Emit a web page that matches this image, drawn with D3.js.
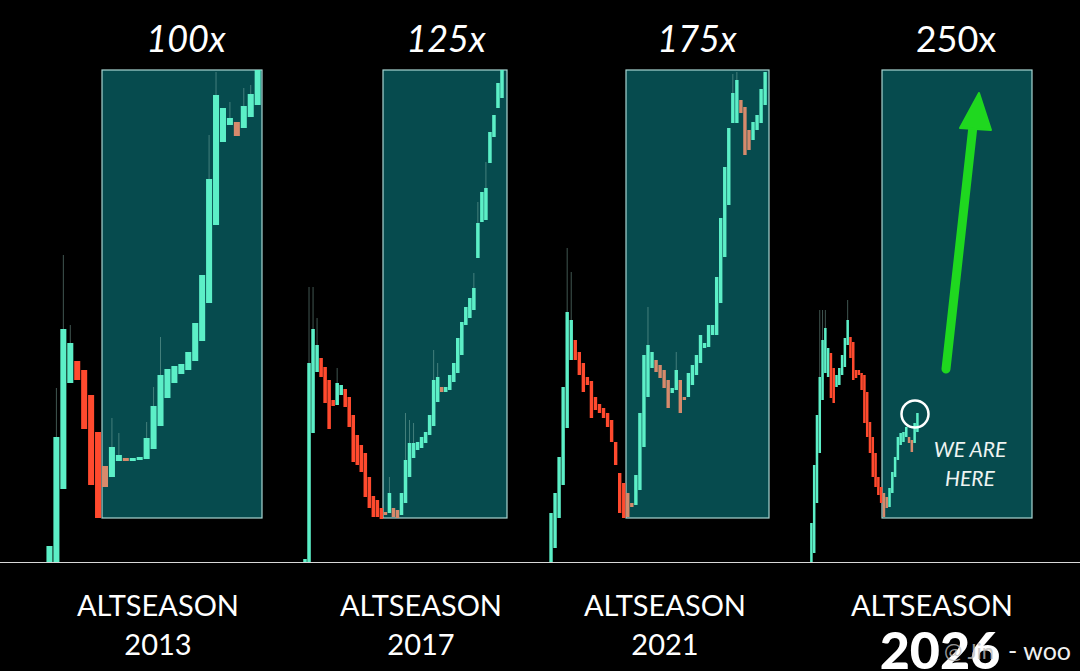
<!DOCTYPE html>
<html>
<head>
<meta charset="utf-8">
<script src="https://cdn.jsdelivr.net/npm/d3@7"></script>
<style>
  html, body { margin: 0; padding: 0; background: #000; }
  svg { display: block; }
</style>
</head>
<body>
<div id="chart"></div>
<script>
'use strict'

// candles: [open, close, high]  (high optionnel = mèche)
var candles2013 = [
	[0, 8], [0, 62.5, 87], [36.5, 116.5, 153.5], [89.5, 109.5, 118.5], [100.5, 91],
	[96, 66.5], [83.5, 38.5], [65, 22], [48, 37.5], [42.5, 57.5, 72],
	[50.5, 53.5, 64.5], [52, 50.5], [50.5, 52], [51, 52.5], [51.5, 62, 70],
	[56.5, 78, 87.5], [68, 93.5, 112.5], [82, 96.5], [89.5, 98], [94, 99],
	[96, 105], [100.5, 119.5], [110.5, 143.5], [129.5, 191.5, 213.5], [168.5, 233.5, 245],
	[210, 227], [218.5, 222, 230], [220, 213], [217, 228, 237], [222.5, 234, 238.5],
	[228.5, 246]
];

var candles2017 = [
	[0, 1.5], [0, 99.5, 137.5], [64.5, 116.5, 137.5], [95, 108.5, 122], [102, 92.5],
	[97.5, 79.5], [91, 66.5], [81, 78], [78.5, 89.5, 97], [83.5, 88.5],
	[86.5, 77.5], [82.5, 67.5], [73.5, 50], [63.5, 48.5], [58.5, 45],
	[54.5, 32.5], [42.5, 27], [33, 22.5], [31, 22.5], [27, 21.5],
	[25, 23.5], [24.5, 34.5, 42.5], [27, 22.5], [26, 22], [23.5, 34.5],
	[29.5, 51, 74.5], [42.5, 59.5, 71], [52, 59.5, 69.5], [56, 60], [57, 62.5],
	[59.5, 65], [63.5, 73.5], [68, 91, 106], [80, 92.5, 99.5], [87.5, 85],
	[85, 87.5], [86, 93.5], [90, 99.5], [94.5, 112], [103.5, 120],
	[118.5, 127.5], [122, 132], [126, 137, 144.5], [152, 169.5, 180], [170, 185],
	[171, 187, 200], [199.5, 215], [212.5, 223.5], [227, 239.5], [232, 246]
];

var candles2021 = [
	[0, 24.5], [7, 34.5], [22, 52.5], [38.5, 87.5], [67, 125, 157],
	[101, 121, 145], [111, 101], [105, 93.5], [99.5, 85], [92.5, 88.5],
	[90.5, 72], [82.5, 76], [79, 74.5], [77, 72], [74.5, 67.5],
	[71, 60], [60, 48.5], [44.5, 24.5], [39.5, 22], [34.5, 22.5],
	[29.5, 27.5], [28.5, 43.5], [36, 74.5], [57.5, 103.5], [82.5, 108.5, 127.5],
	[97, 105], [101, 95], [98.5, 92], [96, 87], [91, 77],
	[84.5, 87], [86, 96, 105], [91, 74.5], [82.5, 81], [82.5, 94.5],
	[88.5, 98.5], [93.5, 103.5], [99.5, 113.5], [107, 109.5], [107.5, 118.5],
	[113.5, 118.5], [113.5, 142.5], [129.5, 172], [152.5, 197.5], [178.5, 217],
	[219.5, 234.5, 244], [219.5, 241, 245], [231, 224.5], [227.5, 203.5], [216, 206],
	[211, 220], [216, 223.5], [219.5, 236.5], [228.5, 245]
];

var candles2026 = [
	[0, 19.5], [4.5, 48.5], [29.5, 73.5], [54.5, 92.5, 126], [81, 111, 126],
	[94.5, 117, 126], [92.5, 107], [104.5, 82], [97, 79.5], [87.5, 93.5],
	[88.5, 97], [93.5, 103.5], [97.5, 112], [108.5, 121, 131], [112.5, 102],
	[110, 91], [96, 92], [96, 93.5], [94.5, 86], [93.5, 69.5],
	[85, 62.5], [70, 54.5], [62.5, 42.5], [54.5, 37.5], [42.5, 33.5],
	[37.5, 29.5], [34.5, 22.5], [32.5, 27], [27.5, 37], [34.5, 45],
	[42.5, 52.5], [51, 62.5], [58.5, 64.5], [60, 65], [62.5, 67.5],
	[62.5, 59.5], [61, 55], [59.5, 69.5], [65, 74.5]
];

var multiples = ["100x", "125x", "175x", "250x"];
var seasons = ["2013", "2017", "2021", "2026"];
var seasonWord = "ALTSEASON";

// zone verte de la "montée" (en valeur)
var boxTop = 246;
var boxBottom = 22;

var green = '#5cefc7';
var red = '#ff4a2e';
var salmon = '#d68a6c';

var width = 1080;
var height = 671;

var svg = d3.select("#chart")
	.append('svg')
	.attr("width", width)
	.attr("height", height)
	.style("background", "#000");

var y = d3.scaleLinear().domain([0, 250]).range([562, 62]);

// mise en page de chaque panneau
var panels = [
	{ data: candles2013, x0: 46, step: 6.94, pad: 0.13, box: [102, 262], cx: 186, italic: true },
	{ data: candles2017, x0: 303, step: 4.02, pad: 0.12, box: [383, 507], cx: 446, italic: true },
	{ data: candles2021, x0: 549, step: 4.04, pad: 0.16, box: [626, 769], cx: 697, italic: true },
	{ data: candles2026, x0: 810, step: 2.79, pad: 0.1, box: [882, 1032], cx: 956, italic: false }
];
var labelX = [158, 421, 665, 932];

panels.forEach(function(p, k){
	var x = d3.scaleBand()
		.domain(d3.range(p.data.length))
		.range([p.x0, p.x0 + p.data.length * p.step])
		.paddingInner(p.pad)
		.paddingOuter(p.pad / 2);

	var g = svg.append("g").attr("class", "panel-" + k);

	// boite teal
	g.append("rect")
		.attr("x", p.box[0])
		.attr("y", y(boxTop))
		.attr("width", p.box[1] - p.box[0])
		.attr("height", y(boxBottom) - y(boxTop))
		.attr("fill", "#064b4e")
		.attr("stroke", "#a8d6d3")
		.attr("stroke-width", 1.2);

	// mèches
	g.selectAll("line.wick")
		.data(p.data.filter(function(d){ return d.length > 2; }).map(function(d){ return { d: d, i: p.data.indexOf(d) }; }))
		.enter()
		.append("line")
			.attr("class", "wick")
			.attr("x1", function(o){ return x(o.i) + x.bandwidth() / 2; })
			.attr("x2", function(o){ return x(o.i) + x.bandwidth() / 2; })
			.attr("y1", function(o){ return y(o.d[2]); })
			.attr("y2", function(o){ return y(Math.max(o.d[0], o.d[1])); })
			.attr("stroke", "#8fbfb4")
			.attr("stroke-opacity", 0.45)
			.attr("stroke-width", 1);

	// corps des bougies
	g.selectAll("rect.body")
		.data(p.data)
		.enter()
		.append("rect")
			.attr("class", "body")
			.attr("x", function(d, i){ return x(i); })
			.attr("width", x.bandwidth())
			.attr("y", function(d){ return y(Math.max(d[0], d[1])); })
			.attr("height", function(d){ return Math.max(2, Math.abs(y(d[0]) - y(d[1]))); })
			.attr("fill", function(d, i){ return setColor(d, x(i) + x.bandwidth() / 2, p.box[0]); });

	// titre (multiple)
	svg.append("text")
		.attr("x", p.cx)
		.attr("y", 52)
		.attr("text-anchor", "middle")
		.style("font-family", "Lato, 'Open Sans', sans-serif")
		.style("font-style", p.italic ? "italic" : "normal")
		.style("font-size", "36px")
		.style("fill", "#fff")
		.text(multiples[k]);

	// ALTSEASON + année
	svg.append("text")
		.attr("x", labelX[k])
		.attr("y", 616)
		.attr("text-anchor", "middle")
		.style("font-family", "Lato, 'Open Sans', sans-serif")
		.style("font-size", "29px")
		.style("fill", "#fff")
		.text(seasonWord);

	if (k < 3) {
		svg.append("text")
			.attr("x", labelX[k])
			.attr("y", 655)
			.attr("text-anchor", "middle")
			.style("font-family", "Lato, 'Open Sans', sans-serif")
			.style("font-size", "29px")
			.style("fill", "#fff")
			.text(seasons[k]);
	} else {
		svg.append("text")
			.attr("x", 940)
			.attr("y", 669)
			.attr("text-anchor", "middle")
			.style("font-family", "Lato, 'Open Sans', sans-serif")
			.style("font-weight", 900)
			.style("font-size", "52px")
			.style("fill", "#fff")
			.text(seasons[k]);
	}
});

// ligne de base
svg.append("line")
	.attr("x1", 0).attr("x2", width)
	.attr("y1", y(0) + 0.5).attr("y2", y(0) + 0.5)
	.attr("stroke", "#d8d8d8")
	.attr("stroke-width", 1);

// flèche verte
var arrowColor = '#1fd81f';
svg.append("line")
	.attr("x1", 946).attr("y1", 369)
	.attr("x2", 973).attr("y2", 126)
	.attr("stroke", arrowColor)
	.attr("stroke-width", 9)
	.attr("stroke-linecap", "round");
svg.append("path")
	.attr("d", "M979,93 L960,128 L991,130 Z")
	.attr("fill", arrowColor)
	.attr("stroke", arrowColor)
	.attr("stroke-linejoin", "round")
	.attr("stroke-width", 2);

// "we are here"
svg.append("circle")
	.attr("cx", 915).attr("cy", 414).attr("r", 13.5)
	.attr("fill", "none")
	.attr("stroke", "#fff")
	.attr("stroke-width", 2.5);

[["WE ARE", 457], ["HERE", 486]].forEach(function(t){
	svg.append("text")
		.attr("x", 970)
		.attr("y", t[1])
		.attr("text-anchor", "middle")
		.style("font-family", "Lato, 'Open Sans', sans-serif")
		.style("font-style", "italic")
		.style("font-size", "21px")
		.style("fill", "#eef4f2")
		.text(t[0]);
});

// filigrane
svg.append("text")
	.attr("x", 944)
	.attr("y", 659)
	.style("font-family", "Lato, 'Open Sans', sans-serif")
	.style("font-size", "22px")
	.style("fill", "#bdbdbd")
	.style("fill-opacity", 0.8)
	.text("@ Jin");
svg.append("text")
	.attr("x", 1071)
	.attr("y", 660)
	.attr("text-anchor", "end")
	.style("font-family", "Lato, 'Open Sans', sans-serif")
	.style("font-size", "25px")
	.style("fill", "#f0f0f0")
	.text("- woo");

function setColor(d, cx, boxLeft){
	if (d[1] >= d[0]) return green;
	return (cx >= boxLeft) ? salmon : red;
}
</script>
</body>
</html>
